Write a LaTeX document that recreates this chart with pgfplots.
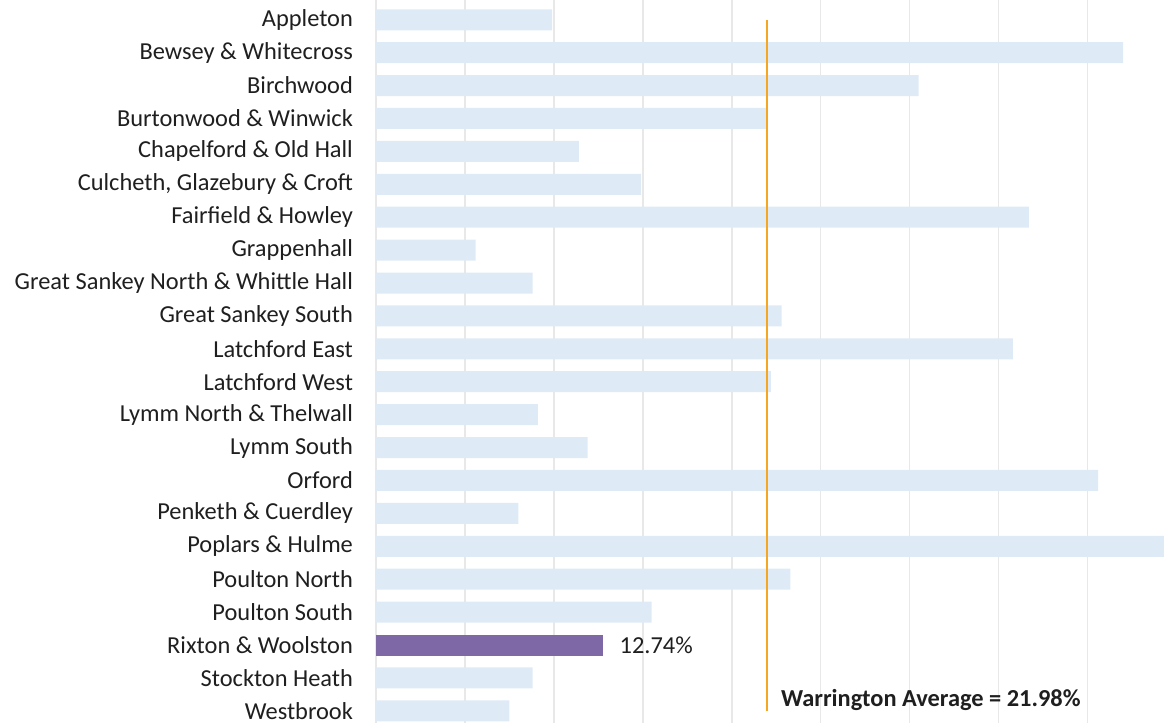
\documentclass[border=0pt]{standalone}
\usepackage{pgfplots}
\pgfplotsset{compat=1.18}
\usepackage{fontspec}
\setmainfont{Carlito}
\definecolor{barblue}{HTML}{DEEAF6}
\definecolor{barpurple}{HTML}{7E68A6}
\definecolor{avgorange}{HTML}{F5A623}
\definecolor{gridgray}{HTML}{E8E8E8}

\begin{document}
\begin{tikzpicture}
\useasboundingbox (-188pt,0) rectangle (394pt,361.5pt);
\begin{axis}[
    at={(0,0)}, anchor=south west,
    scale only axis,
    width=394pt, height=361.5pt,
    y dir=reverse,
    xmin=0, xmax=44.3,
    ymin=-0.6, ymax=21.37,
    axis line style={draw=none},
    xmajorgrids, grid style={gridgray, line width=0.8pt},
    xtick={0,5,...,40}, xticklabels={},
    major tick length=0pt,
    ytick={0,...,21},
    yticklabels={Appleton, Bewsey \& Whitecross, Birchwood, Burtonwood \& Winwick,
      Chapelford \& Old Hall, {Culcheth, Glazebury \& Croft}, Fairfield \& Howley,
      Grappenhall, Great Sankey North \& Whittle Hall, Great Sankey South,
      Latchford East, Latchford West, Lymm North \& Thelwall, Lymm South, Orford,
      Penketh \& Cuerdley, Poplars \& Hulme, Poulton North, Poulton South,
      Rixton \& Woolston, Stockton Heath, Westbrook},
    yticklabel style={font=\fontsize{12.2pt}{14pt}\selectfont, color=black!88, xshift=-8pt},
    /pgf/number format/assume math mode=true,
    clip=true,
]
\addplot[xbar, bar width=10.5pt, bar shift=0pt, fill=barblue, draw=none] coordinates {
  (9.9,0) (42.0,1) (30.5,2) (22.0,3) (11.4,4) (14.9,5) (36.7,6) (5.6,7)
  (8.8,8) (22.8,9) (35.8,10) (22.2,11) (9.1,12) (11.9,13) (40.6,14) (8.0,15)
  (44.3,16) (23.3,17) (15.5,18) (8.8,20) (7.5,21)
};
\addplot[xbar, bar width=10.5pt, bar shift=0pt, fill=barpurple, draw=none,
  nodes near coords={\pgfmathprintnumber[fixed,precision=2,fixed zerofill,assume math mode=true]{\pgfplotspointmeta}\%},
  point meta=x,
  nodes near coords style={font=\fontsize{12.2pt}{14pt}\selectfont, color=black!88, anchor=west, xshift=5pt}
  ] coordinates {(12.74,19)};
\addplot[avgorange, line width=1pt, no marks] coordinates {(21.98,0) (21.98,21)};
\node[anchor=west, font=\bfseries\fontsize{12.2pt}{14pt}\selectfont, color=black!88, inner sep=0pt]
  at (axis cs:22.75,20.67) {Warrington Average = 21.98\%};
\end{axis}
\end{tikzpicture}
\end{document}
